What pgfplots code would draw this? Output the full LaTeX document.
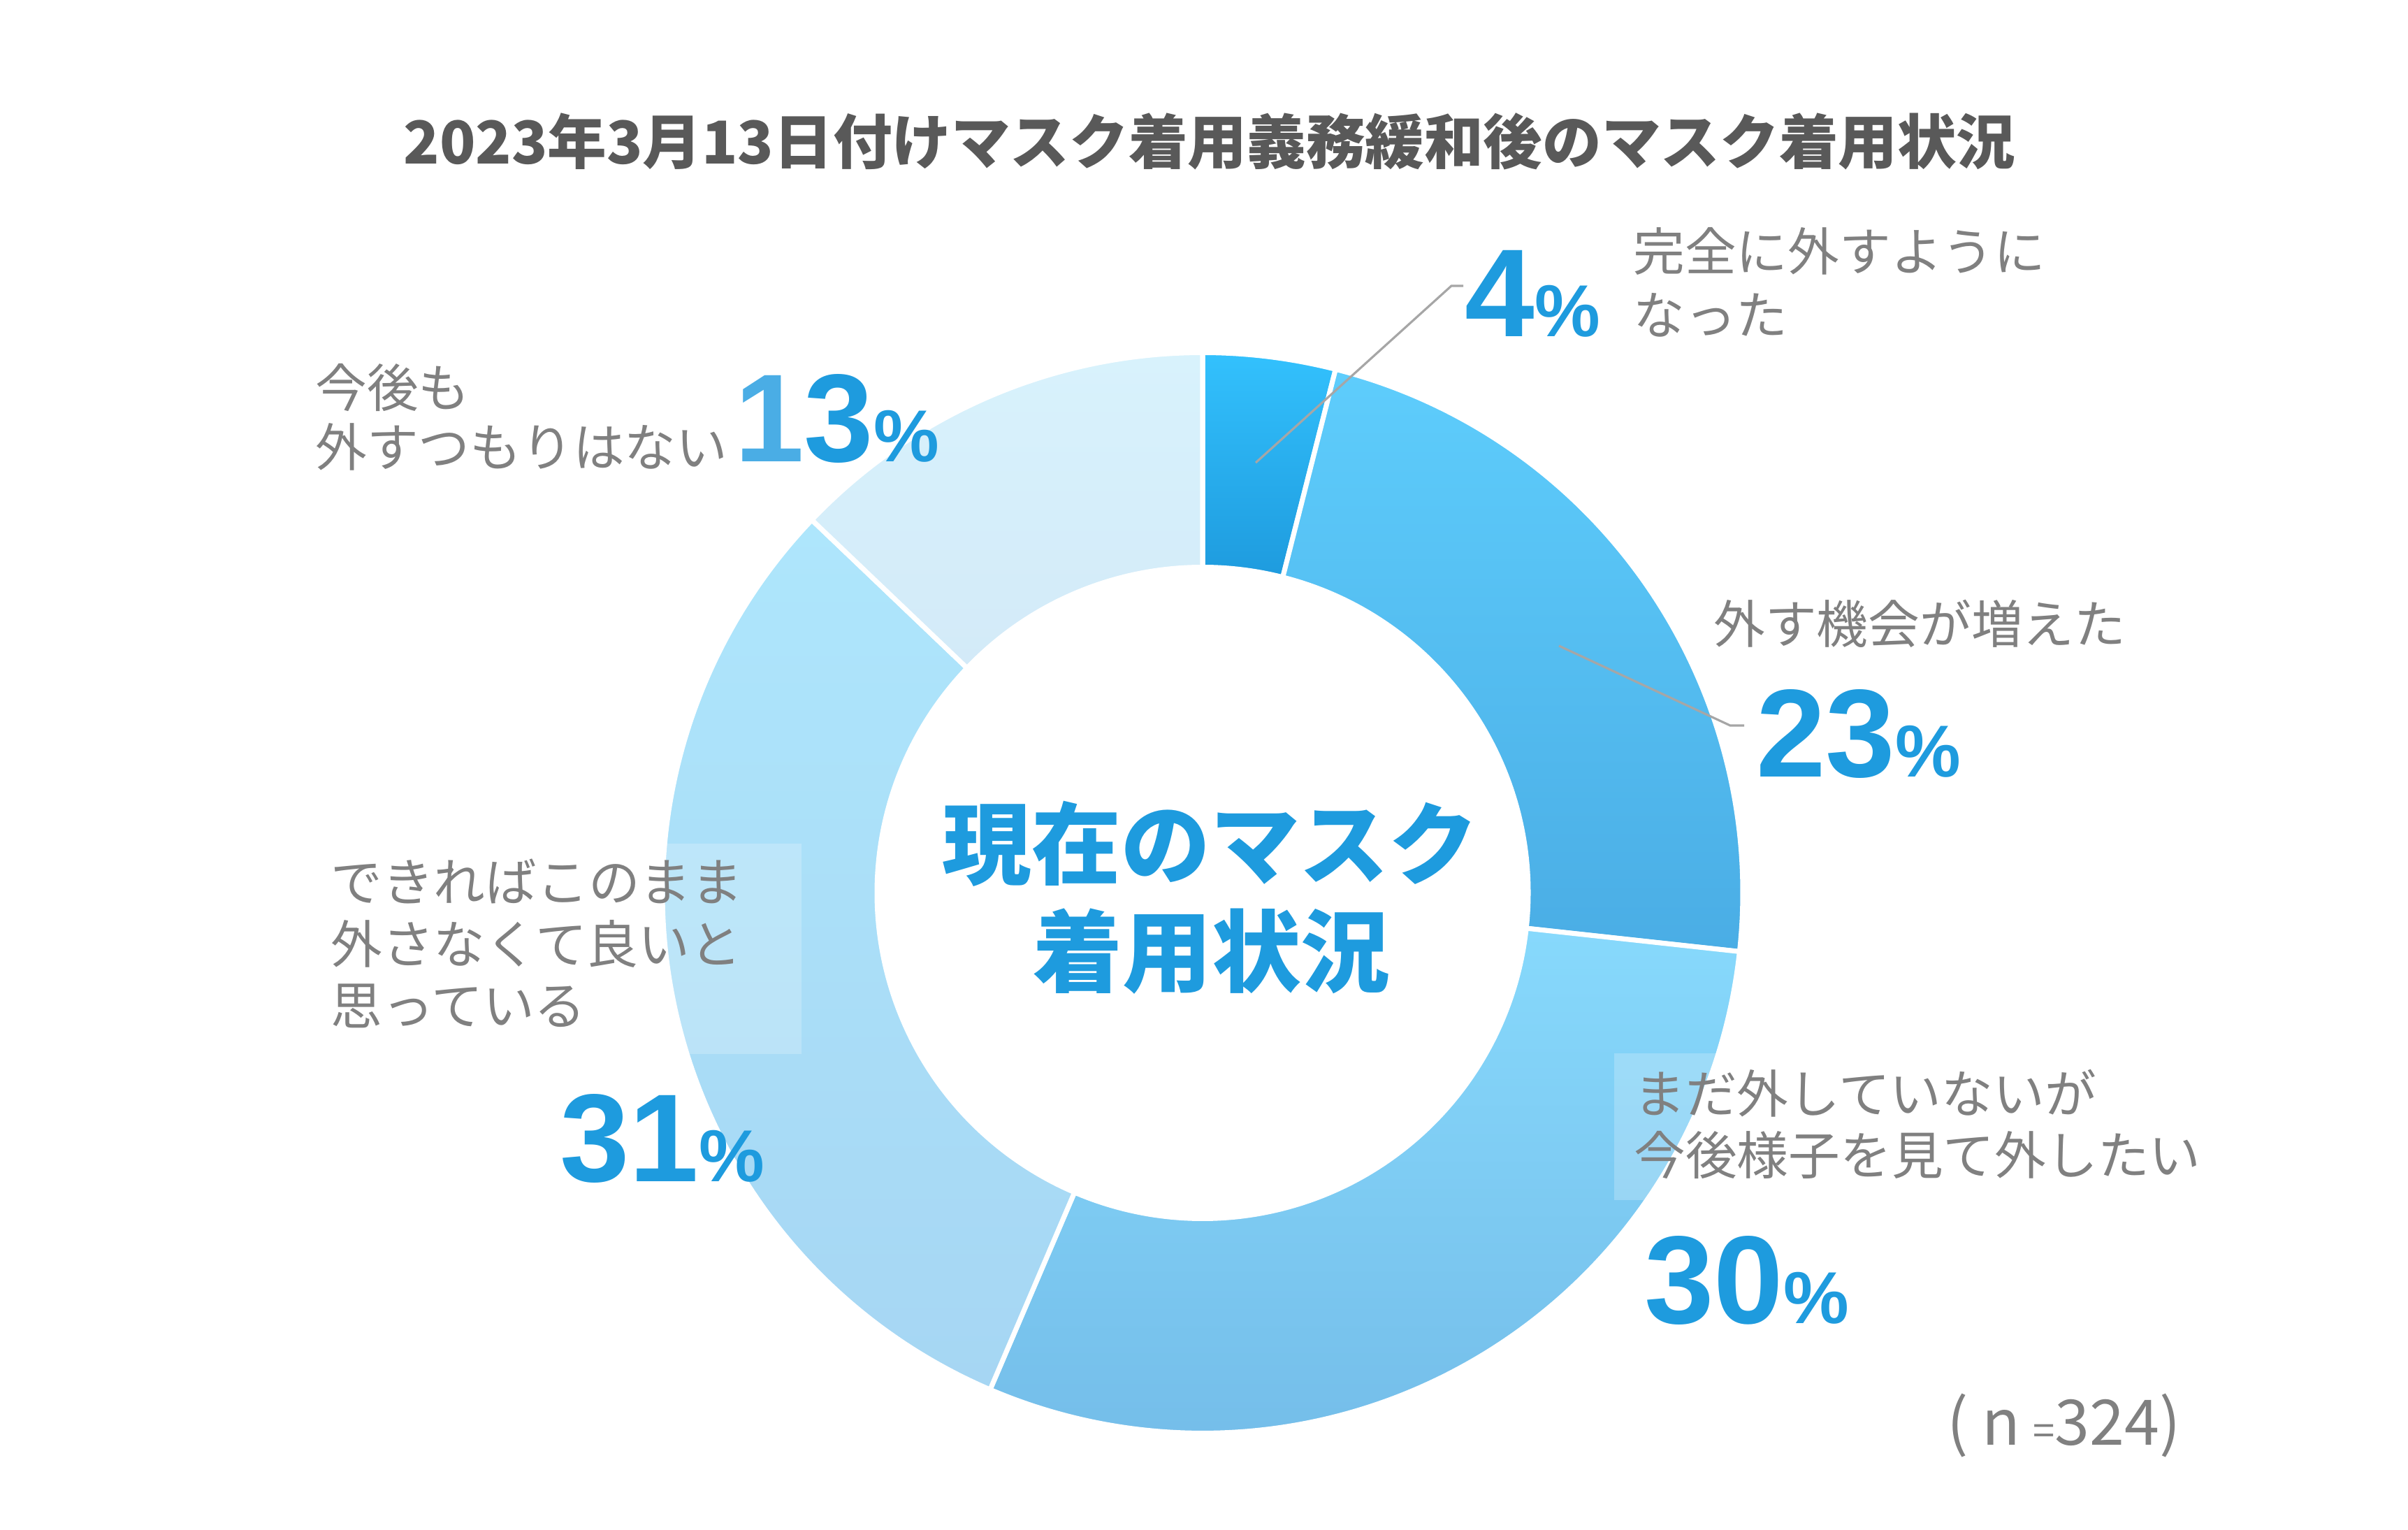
\documentclass[border=0pt]{standalone}
\usepackage{pgfplots}
\pgfplotsset{compat=1.18}
\usepackage{pgfplotstable}
\usepackage{fontspec}
\setmainfont{Noto Sans CJK JP}
\newfontfamily\num{Liberation Sans}

\definecolor{titlegray}{HTML}{595959}
\definecolor{labelgray}{HTML}{808080}
\definecolor{leader}{HTML}{A6A6A6}
\definecolor{numblue}{HTML}{1E9BDE}
\definecolor{top0}{HTML}{33C1FD}\definecolor{bot0}{HTML}{1E9BDE}
\definecolor{top1}{HTML}{5ECDFC}\definecolor{bot1}{HTML}{4AADE5}
\definecolor{top2}{HTML}{87D9FC}\definecolor{bot2}{HTML}{74BDE9}
\definecolor{top3}{HTML}{AEE6FC}\definecolor{bot3}{HTML}{A6D6F3}
\definecolor{top4}{HTML}{D8F2FC}\definecolor{bot4}{HTML}{D3EAF8}

% shares, clockwise from 12 o'clock
\pgfplotstableread{
label value
4 4
23 23
30 30
31 31
13 13
}\donut

% geometry in picture pixels (1 px = 0.005cm)
\def\cx{1721}\def\cy{910.5}\def\Ro{773}\def\Ri{466}\def\un{0.005cm}

\def\total{0}
\pgfplotsforeachungrouped \i in {0,...,4}{%
  \pgfplotstablegetelem{\i}{value}\of\donut
  \pgfmathsetmacro\total{\total+\pgfplotsretval}}
\def\cum{0}
\pgfplotsforeachungrouped \i in {0,...,4}{%
  \pgfplotstablegetelem{\i}{value}\of\donut
  \pgfmathsetmacro\aS{90-\cum/\total*360}%
  \pgfmathsetmacro\cum{\cum+\pgfplotsretval}%
  \pgfmathsetmacro\aE{90-\cum/\total*360}%
  \expandafter\let\csname aS\i\endcsname\aS
  \expandafter\let\csname aE\i\endcsname\aE}

\newcommand\lab[3]{\node[anchor=base west,inner sep=0,text=labelgray,
  font=\fontsize{10.5}{12}\selectfont] at (axis cs:{#1-12},{2188-#2}) {#3};}
\newcommand\pct[3]{\node[anchor=base west,inner sep=0,text=numblue]
  at (axis cs:#1,{2188-#2}) {\num\bfseries\fontsize{25.5}{26}\selectfont #3\fontsize{15}{15}\selectfont\%};}

\begin{document}
\begin{tikzpicture}
\begin{axis}[x=0.005cm, y=0.005cm, xmin=0, xmax=3446, ymin=0, ymax=2188,
  hide axis, clip=false]
\path (axis cs:0,0) rectangle (axis cs:3446,2188);

\pgfplotsinvokeforeach{0,...,4}{
  \path[top color=top#1, bottom color=bot#1, draw=white, line width=1pt]
    (axis cs:{\cx+\Ro*cos(\csname aS#1\endcsname)},{\cy+\Ro*sin(\csname aS#1\endcsname)})
    arc[start angle=\csname aS#1\endcsname, end angle=\csname aE#1\endcsname, radius=\Ro*\un]
    -- (axis cs:{\cx+\Ri*cos(\csname aE#1\endcsname)},{\cy+\Ri*sin(\csname aE#1\endcsname)})
    arc[start angle=\csname aE#1\endcsname, end angle=\csname aS#1\endcsname, radius=\Ri*\un]
    -- cycle;
}

% faint label boxes over the ring
\fill[white, opacity=0.22] (axis cs:440,{2188-1207}) rectangle (axis cs:1147,{2188-1508});
\fill[white, opacity=0.22] (axis cs:2310,{2188-1507}) rectangle (axis cs:3200,{2188-1717});

% leader lines
\draw[leader, line width=0.45pt] (axis cs:1797,{2188-662}) -- (axis cs:2077,{2188-409}) -- (axis cs:2094,{2188-409});
\draw[leader, line width=0.45pt] (axis cs:2231,{2188-924}) -- (axis cs:2476,{2188-1038}) -- (axis cs:2496,{2188-1038});

% title
\node[anchor=base, inner sep=0, text=titlegray, font=\bfseries\fontsize{12.05}{14}\selectfont]
  at (axis cs:1731,{2188-235}) {2023年3月13日付けマスク着用義務緩和後のマスク着用状況};

% centre
\node[anchor=base, inner sep=0, text=numblue, font=\bfseries\fontsize{18.2}{20}\selectfont]
  at (axis cs:1732,{2188-1255}) {現在のマスク};
\node[anchor=base, inner sep=0, text=numblue, font=\bfseries\fontsize{18.2}{20}\selectfont]
  at (axis cs:1734,{2188-1409}) {着用状況};

% category labels
\lab{2348}{388}{完全に外すように}
\lab{2348}{479}{なった}
\lab{2463}{920}{外す機会が増えた}
\lab{2349}{1592}{まだ外していないが}
\lab{2349}{1680}{今後様子を見て外したい}
\lab{484}{1289}{できればこのまま}
\lab{484}{1378}{外さなくて良いと}
\lab{484}{1466}{思っている}
\lab{462}{582}{今後も}
\lab{462}{668}{外すつもりはない}

% percentages
\pct{2095}{481}{4}
\pct{2512}{1111}{23}
\pct{2352}{1893}{30}
\pct{800}{1690}{31}
\pct{1050}{660}{{\color{bot1}1}3}

% sample size
\node[anchor=base west, inner sep=0, text=labelgray, font=\fontsize{12.8}{14}\selectfont]
  at (axis cs:2785,{2188-2067}) {(\hspace{0.22em}n\hspace{0.2em}{\fontsize{8}{8}\selectfont =}324)};
\end{axis}
\end{tikzpicture}
\end{document}
